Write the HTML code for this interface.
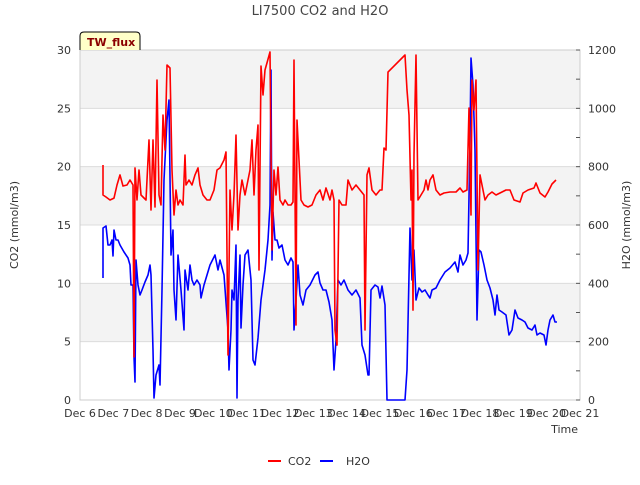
<!DOCTYPE html>
<html><head><meta charset="utf-8"><style>
body{margin:0;background:#fff;font-family:"Liberation Sans","DejaVu Sans",sans-serif}
svg text{font-family:"DejaVu Sans","Liberation Sans",sans-serif}
</style></head><body>
<svg id="c" width="640" height="480" xmlns="http://www.w3.org/2000/svg"></svg>
<script>
const xTickLabels=["Dec 6","Dec 7","Dec 8","Dec 9","Dec 10","Dec 11","Dec 12","Dec 13","Dec 14","Dec 15","Dec 16","Dec 17","Dec 18","Dec 19","Dec 20","Dec 21"];
const leftTicks=[0,5,10,15,20,25,30];
const rightTicks=[0,200,400,600,800,1000,1200];
// pixel-read samples converted via axis functions below (x px, y px of reference)
const co2Raw=[[103,165],[103,195],[106,197],[110,200],[114,198],[117,185],[120,175],[123,186],[127,185],[130,180],[133,185],[134,357],[135,168],[137,200],[139,170],[141,195],[146,200],[149,140],[151,210],[153,140],[155,207],[157,80],[159,195],[161,205],[163,115],[165,150],[167,65],[170,68],[172,170],[174,215],[176,190],[178,205],[180,200],[183,205],[185,155],[186,185],[189,180],[192,185],[195,175],[198,168],[200,185],[203,195],[207,200],[210,200],[214,190],[217,170],[220,168],[224,160],[226,152],[228,355],[230,190],[232,230],[234,195],[236,135],[238,230],[240,195],[242,180],[244,190],[245,195],[247,185],[250,170],[252,140],[254,195],[256,150],[258,125],[259,270],[261,66],[263,95],[265,70],[270,52],[272,250],[274,170],[276,195],[278,167],[280,200],[283,205],[285,200],[288,205],[291,205],[293,202],[294,60],[296,325],[297,120],[299,160],[301,200],[304,205],[308,207],[312,205],[316,195],[320,190],[323,200],[326,188],[330,200],[332,190],[334,200],[335,330],[337,345],[339,200],[342,205],[346,205],[348,180],[352,190],[356,185],[360,190],[364,195],[365,330],[367,175],[369,168],[372,190],[376,195],[380,190],[382,190],[384,148],[386,150],[388,72],[405,55],[407,90],[409,115],[411,200],[412,170],[413,310],[414,155],[416,55],[418,200],[421,195],[424,190],[426,180],[428,190],[430,180],[433,175],[436,190],[440,195],[444,193],[450,192],[456,192],[460,188],[463,192],[467,190],[469,108],[471,215],[472,80],[474,110],[476,80],[478,270],[480,175],[482,185],[485,200],[488,195],[492,192],[496,195],[500,193],[506,190],[510,190],[514,200],[520,202],[523,193],[528,190],[534,188],[536,183],[540,193],[545,197],[548,192],[552,184],[556,180]];
const h2oRaw=[[103,278],[103,228],[106,226],[108,245],[110,245],[112,240],[113,256],[114,230],[116,240],[118,240],[120,245],[124,252],[128,258],[130,265],[131,285],[133,285],[134,357],[135,382],[136,260],[138,285],[140,295],[142,290],[145,282],[148,275],[150,265],[151,275],[153,350],[154,398],[156,375],[159,365],[160,385],[162,290],[164,180],[167,120],[169,100],[171,255],[173,230],[174,290],[176,320],[178,255],[181,290],[184,330],[185,270],[188,290],[190,265],[192,280],[194,285],[197,280],[200,285],[201,298],[204,285],[207,275],[210,265],[215,255],[217,265],[218,270],[220,260],[224,275],[228,330],[229,370],[231,330],[232,290],[234,300],[236,245],[237,398],[238,300],[240,255],[241,328],[243,285],[245,255],[248,250],[251,280],[253,360],[255,365],[258,338],[261,300],[265,270],[268,240],[270,205],[271,70],[272,260],[273,212],[275,240],[277,240],[279,248],[282,245],[285,260],[288,265],[291,258],[293,262],[294,330],[296,300],[298,265],[300,295],[303,305],[306,290],[310,285],[315,275],[318,272],[320,283],[323,290],[326,290],[329,302],[332,320],[334,370],[336,340],[338,280],[341,285],[344,280],[348,290],[352,295],[356,290],[360,298],[362,345],[365,355],[368,375],[369,375],[371,290],[375,285],[378,287],[380,298],[382,286],[385,305],[387,400],[405,400],[407,370],[410,228],[412,280],[414,250],[416,300],[419,288],[422,292],[425,290],[428,295],[430,298],[432,290],[436,288],[440,280],[445,272],[450,268],[455,262],[458,272],[460,255],[463,265],[466,260],[468,253],[470,140],[471,58],[473,85],[475,150],[477,320],[479,250],[481,252],[484,265],[487,280],[490,288],[493,300],[495,315],[497,295],[499,310],[502,312],[506,315],[509,335],[512,330],[515,310],[518,318],[522,320],[525,322],[528,328],[532,330],[535,325],[537,335],[540,333],[544,335],[546,345],[548,330],[550,320],[553,315],[555,322],[557,322]];
const co2Days=co2Raw.map(p=>+(6+(p[0]-80)/33.333).toFixed(3));
const co2Values=co2Raw.map(p=>+((400-p[1])/350*30).toFixed(2));
const h2oDays=h2oRaw.map(p=>+(6+(p[0]-80)/33.333).toFixed(3));
const h2oValues=h2oRaw.map(p=>+((400-p[1])/350*1200).toFixed(1));

const L=80,R=580,T=50,B=400;
const xS=d=>L+(d-6)/15*(R-L);
const yL=v=>B-v/30*(B-T);
const yR=v=>B-v/1200*(B-T);
const svg=document.getElementById('c');
const NS="http://www.w3.org/2000/svg";
function mk(tag,attrs,parent){const e=document.createElementNS(NS,tag);for(const k in attrs)e.setAttribute(k,attrs[k]);(parent||svg).appendChild(e);return e;}

// bands
[[25,30],[15,20],[5,10]].forEach(b=>{
 const r=mk('rect',{x:L,y:yL(b[1]),width:R-L,height:yL(b[0])-yL(b[1]),fill:'#f3f3f3'});
 
 
});
leftTicks.forEach(v=>{
 const g=mk('line',{x1:L,x2:R,y1:yL(v),y2:yL(v),stroke:'#dcdcdc','stroke-width':1});
 
 
 const t=mk('text',{x:L-9,y:yL(v)+4,'text-anchor':'end','font-size':11,fill:'#333'});
 t.textContent=v;
 
 
});
const frame=mk('rect',{x:L,y:T,width:R-L,height:B-T,fill:'none',stroke:'#ccc'});


for(let v=0;v<=1200;v+=100){
 const tk=mk('line',{x1:R,x2:R-4,y1:yR(v),y2:yR(v),stroke:'#555'});
 
 
}
rightTicks.forEach(v=>{
 const t=mk('text',{x:R+8,y:yR(v)+4,'font-size':11,fill:'#333'});
 t.textContent=v;
 
 
});
xTickLabels.forEach((s,i)=>{
 const t=mk('text',{x:xS(6+i),y:417,'text-anchor':'middle','font-size':11,fill:'#333'});
 t.textContent=s;
 
 
});
function series(days,vals,ys,color,name){
 const d=days.map((x,i)=>(i?'L':'M')+xS(x).toFixed(1)+' '+ys(vals[i]).toFixed(1)).join(' ');
 const p=mk('path',{d:d,fill:'none',stroke:color,'stroke-width':1.6,'stroke-linejoin':'round'});
 
 
}
series(h2oDays,h2oValues,yR,'#0000ff','h2o-line');
series(co2Days,co2Values,yL,'#ff0000','co2-line');
</script>
<svg width="640" height="480" style="position:absolute;left:0;top:0" xmlns="http://www.w3.org/2000/svg">
<text x="320" y="15" text-anchor="middle" font-size="13" fill="#444">LI7500 CO2 and H2O</text>
<g>
<path d="M80 50 L80 36 Q80 32 84 32 L136 32 Q140 32 140 36 L140 50" fill="#ffffc8" stroke="#000"/>
<text x="87" y="46" font-size="11" font-weight="bold" fill="#8b0000">TW_flux</text>
</g>
<text x="18" y="225" transform="rotate(-90 18 225)" text-anchor="middle" font-size="11" fill="#333">CO2 (mmol/m3)</text>
<text x="630" y="225" transform="rotate(-90 630 225)" text-anchor="middle" font-size="11" fill="#333">H2O (mmol/m3)</text>
<text x="578" y="433" text-anchor="end" font-size="11" fill="#333">Time</text>
<g>
<line x1="268" x2="281" y1="461" y2="461" stroke="#ff0000" stroke-width="2"/>
<text x="288" y="465" font-size="11" fill="#333">CO2</text></g>
<g>
<line x1="320" x2="333" y1="461" y2="461" stroke="#0000ff" stroke-width="2"/>
<text x="346" y="465" font-size="11" fill="#333">H2O</text></g>
</svg>
</body></html>
